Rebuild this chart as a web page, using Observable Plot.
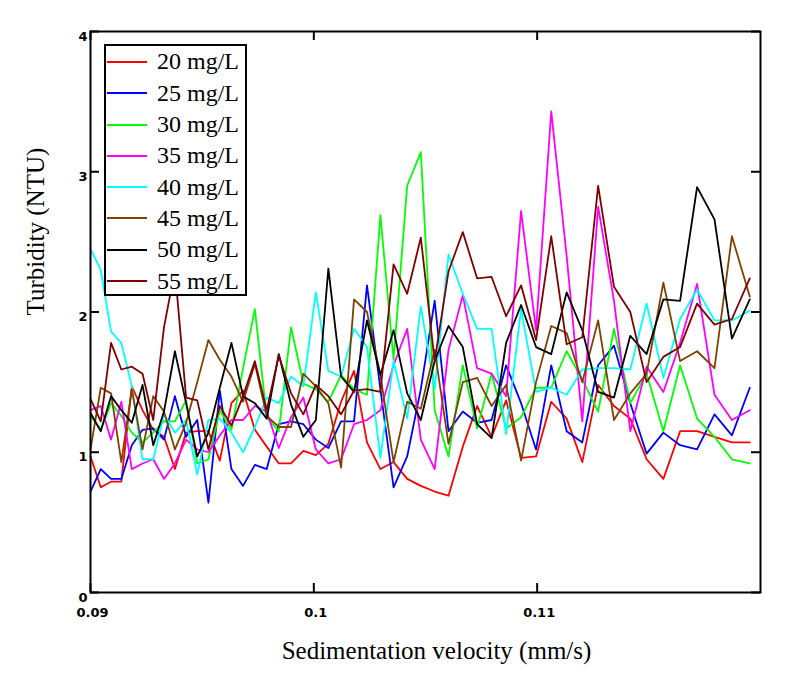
<!DOCTYPE html>
<html><head><meta charset="utf-8">
<script src="https://cdn.jsdelivr.net/npm/d3@7"></script>
<script src="https://cdn.jsdelivr.net/npm/@observablehq/plot@0.6"></script>
<style>
body{margin:0;background:#fff}
#wrap{position:relative;width:800px;height:685px}
#legend{position:absolute;left:104px;top:44px;width:143px;height:252px;box-sizing:border-box;border:2px solid #000;background:#fff;padding-top:0.3px}
.row{height:31.3px;display:flex;align-items:center;font-family:"Liberation Serif","Times New Roman",serif;font-size:24px;color:#000;white-space:nowrap}
.sw{display:inline-block;width:40px;height:2px;margin-left:1px;margin-right:10px}
</style></head><body><div id="wrap"></div>
<script>
// Sedimentation velocity (mm/s)
const xVel = [0.09000,0.09046,0.09092,0.09138,0.09185,0.09233,0.09281,0.09329,0.09378,0.09428,
  0.09478,0.09528,0.09579,0.09631,0.09683,0.09736,0.09789,0.09843,0.09898,0.09953,
  0.10009,0.10065,0.10122,0.10180,0.10238,0.10298,0.10357,0.10418,0.10479,0.10541,
  0.10603,0.10667,0.10731,0.10796,0.10861,0.10928,0.10995,0.11063,0.11132,0.11202,
  0.11273,0.11344,0.11417,0.11490,0.11565,0.11640,0.11716,0.11794,0.11872,0.11952];

const seriesNames = ["20 mg/L","25 mg/L","30 mg/L","35 mg/L","40 mg/L","45 mg/L","50 mg/L","55 mg/L"];
const seriesColors = ["#ff0000","#0000ff","#00ff00","#ff00ff","#00ffff","#804000","#000000","#800000"];

// Turbidity (NTU)
const t20 = [0.97,0.75,0.79,0.79,1.47,1.30,1.16,1.11,0.88,1.14,1.15,1.15,0.94,1.35,1.44,1.16,1.04,0.92,0.92,1.01,
  0.98,1.06,1.36,1.58,1.07,0.88,0.93,0.81,0.76,0.72,0.69,1.04,1.33,1.11,1.37,0.96,0.97,1.36,1.24,0.93,
  1.48,1.33,1.24,0.95,0.81,1.15,1.15,1.11,1.07,1.07];
const t25 = [0.72,0.88,0.81,0.81,1.05,1.16,1.17,1.09,1.40,1.11,1.23,0.64,1.44,0.88,0.76,0.91,0.88,1.20,1.22,1.20,
  1.09,1.03,1.22,1.22,2.19,1.45,0.75,0.97,1.45,2.08,1.15,1.29,1.21,1.23,1.62,1.35,1.02,1.62,1.15,1.07,
  1.62,1.76,1.35,0.99,1.14,1.05,1.02,1.27,1.12,1.46];
const t30 = [1.26,1.16,1.35,1.26,1.14,1.07,1.14,1.22,1.22,1.37,0.92,0.95,1.30,1.16,1.60,2.02,1.25,1.15,1.89,1.49,
  1.45,1.36,1.55,1.45,1.41,2.69,1.66,2.90,3.14,1.30,0.97,1.62,1.17,1.56,1.17,1.25,1.46,1.46,1.72,1.52,
  1.29,1.88,1.35,1.56,1.15,1.62,1.24,1.11,0.95,0.92];
const t35 = [1.30,1.33,1.09,1.36,0.88,0.92,0.95,0.81,0.92,1.09,1.02,1.00,1.12,1.23,1.23,1.33,1.29,1.03,1.25,1.39,
  1.02,0.92,0.95,1.20,1.23,1.30,1.62,1.88,1.09,0.88,1.73,2.12,1.60,1.56,1.40,2.72,1.87,3.43,2.40,1.22,
  2.75,2.08,1.15,1.61,1.43,1.78,2.20,1.41,1.23,1.30];
const t40 = [2.45,2.30,1.86,1.78,1.47,0.95,0.95,1.27,1.14,1.23,0.84,1.23,1.24,1.14,1.00,1.18,1.39,1.35,1.54,1.47,
  2.14,1.58,1.54,1.88,1.75,0.96,1.65,1.24,2.04,1.45,2.41,2.13,1.88,1.88,1.13,2.02,1.43,1.46,1.41,1.59,
  1.60,1.60,1.59,2.06,1.53,1.95,2.16,1.94,1.94,2.01];
const t45 = [1.02,1.46,1.42,0.93,1.45,1.02,1.40,1.29,1.02,1.21,1.50,1.80,1.66,1.54,1.36,1.63,1.26,1.18,1.18,1.56,
  1.47,1.35,0.89,2.09,2.00,1.55,0.93,1.36,1.31,1.73,1.06,1.50,1.53,1.33,1.48,0.94,1.50,1.90,1.85,1.50,
  1.94,1.23,1.42,1.56,2.21,1.65,1.72,1.60,2.54,2.11];
const t50 = [1.28,1.15,1.40,1.30,1.21,1.48,1.05,1.29,1.72,1.35,0.97,1.14,1.46,1.78,1.40,1.35,1.24,1.70,1.34,1.11,
  1.23,2.31,1.54,1.43,1.94,1.55,1.87,1.42,1.23,1.65,1.90,1.75,1.20,1.10,1.78,2.05,1.75,1.70,2.14,1.87,
  1.43,1.39,1.83,1.70,2.09,2.08,2.89,2.66,1.81,2.09];
const t55 = [1.38,1.22,1.78,1.59,1.61,1.56,1.23,1.89,2.30,1.39,1.37,1.02,1.33,1.19,1.40,1.65,1.30,1.69,1.42,1.27,
  1.48,1.40,1.27,1.44,1.45,1.43,2.34,2.13,2.53,1.65,2.29,2.57,2.24,2.25,1.97,2.19,1.80,2.54,1.77,1.82,
  2.90,2.18,2.00,1.50,1.68,1.75,2.06,1.91,1.95,2.24];

const xTicks = [0.09, 0.10, 0.11];
const xTickLabels = ["0.09", "0.1", "0.11"];
const yTicks = [0, 1, 2, 3, 4];
const yTickLabels = ["0", "1", "2", "3", "4"];
const xLabel = "Sedimentation velocity (mm/s)";
const yLabel = "Turbidity (NTU)";

const seriesValues = [t20, t25, t30, t35, t40, t45, t50, t55];
const rows = seriesNames.flatMap((name, i) =>
  seriesValues[i].map((v, j) => ({series: name, x: xVel[j], y: v})));

const W = 800, H = 685;
const mL = 90, mR = 40, mT = 31, mB = 93;
const plotW = W - mL - mR, plotH = H - mT - mB;
const tickLen = 9;

const chart = Plot.plot({
  width: W, height: H,
  marginLeft: mL, marginRight: mR, marginTop: mT, marginBottom: mB,
  style: {fontFamily: "DejaVu Sans, sans-serif", fontSize: "13px", background: "#fff", color: "#000"},
  x: {domain: [0.09, 0.12]},
  y: {domain: [0, 4]},
  color: {domain: seriesNames, range: seriesColors},
  marks: [
    Plot.line(rows, {x: "x", y: "y", z: "series", stroke: "series", strokeWidth: 1.8}),
    Plot.tickX(xTicks, {x: d => d, insetTop: plotH - tickLen, stroke: "#000", strokeWidth: 2}),
    Plot.tickX(xTicks, {x: d => d, insetBottom: plotH - tickLen, stroke: "#000", strokeWidth: 2}),
    Plot.tickY(yTicks, {y: d => d, insetRight: plotW - tickLen, stroke: "#000", strokeWidth: 2}),
    Plot.tickY(yTicks, {y: d => d, insetLeft: plotW - tickLen, stroke: "#000", strokeWidth: 2}),
    Plot.frame({stroke: "#000", strokeWidth: 2}),
    Plot.axisX({ticks: xTicks, tickSize: 0, tickPadding: 15, dx: 2,
      tickFormat: (d, i) => xTickLabels[i], label: null}),
    Plot.axisY({ticks: yTicks, tickSize: 0, tickPadding: 3, dy: 5,
      tickFormat: (d, i) => yTickLabels[i], label: null}),
    Plot.text([xLabel], {frameAnchor: "bottom", dx: 11, dy: 66.7, text: d => d}),
    Plot.text([yLabel], {frameAnchor: "left", rotate: -90, dx: -54.7, dy: 3.5, text: d => d})
  ]
});

// enforce fonts with inline styles
d3.select(chart).selectAll("text").each(function() {
  const t = this.textContent;
  if (t === xLabel || t === yLabel) {
    this.style.fontFamily = "'Liberation Serif', 'Times New Roman', serif";
    this.style.fontSize = "25px";
    this.style.fontWeight = "normal";
  } else {
    this.style.fontFamily = "'DejaVu Sans', sans-serif";
    this.style.fontSize = "13px";
    this.style.fontWeight = "bold";
  }
});

const wrap = document.getElementById("wrap");
wrap.appendChild(chart);

const legend = document.createElement("div");
legend.id = "legend";
seriesNames.forEach((name, i) => {
  const row = document.createElement("div");
  row.className = "row";
  const sw = document.createElement("span");
  sw.className = "sw";
  sw.style.backgroundColor = seriesColors[i];
  const lab = document.createElement("span");
  lab.textContent = name;
  row.appendChild(sw);
  row.appendChild(lab);
  legend.appendChild(row);
});
wrap.appendChild(legend);
</script></body></html>
